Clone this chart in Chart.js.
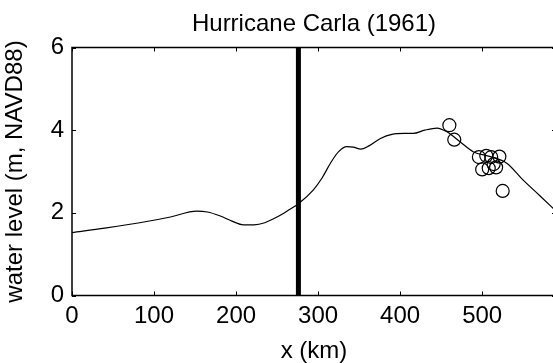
<!DOCTYPE html>
<html>
<head>
<meta charset="utf-8">
<script src="https://cdn.jsdelivr.net/npm/chart.js@4/dist/chart.umd.min.js"></script>
<style>
  html, body { margin: 0; padding: 0; overflow: hidden; background: #fff; }
  #wrap { width: 575px; height: 363px; position: relative; }
</style>
</head>
<body>
<div id="wrap"><canvas id="c" width="575" height="363"></canvas></div>
<script>
// ---- data ----
const titleText = 'Hurricane Carla (1961)';
const xLabel = 'x (km)';
const yLabel = 'water level (m, NAVD88)';

const curveKm    = [0, 40, 91, 120, 152, 165, 180, 195, 209, 222, 235, 250, 265, 276, 294, 305, 315, 325, 335, 343, 352, 362, 376, 390, 405, 416, 430, 445, 457, 473, 489, 510, 530, 550, 570, 590];
const curveLevel = [1.52, 1.63, 1.79, 1.90, 2.04, 2.02, 1.93, 1.80, 1.71, 1.71, 1.76, 1.90, 2.08, 2.22, 2.55, 2.85, 3.20, 3.48, 3.60, 3.59, 3.54, 3.62, 3.80, 3.90, 3.92, 3.92, 4.00, 4.05, 3.96, 3.72, 3.48, 3.36, 3.20, 2.79, 2.42, 2.04];

const obsKm    = [460, 466, 496, 505, 511, 521, 500, 508, 514, 517, 525];
const obsLevel = [4.12, 3.77, 3.35, 3.38, 3.35, 3.36, 3.05, 3.08, 3.18, 3.10, 2.53];

const landfallKm = 276;
const xTicks = [0, 100, 200, 300, 400, 500];
const yTicks = [0, 2, 4, 6];
const xMin = 0, xMax = 590;
const yMin = 0, yMax = 6;

// ---- chart ----
const FONT = "'Liberation Sans', Arial, Helvetica, sans-serif";
const FS = 24;

const boxTicks = {
  id: 'boxTicks',
  afterDraw(chart) {
    const {ctx, chartArea: a, scales: {x, y}} = chart;
    ctx.save();
    ctx.strokeStyle = '#000';
    ctx.lineWidth = 1.5;
    ctx.strokeRect(a.left, a.top, a.right - a.left, a.bottom - a.top);
    ctx.lineWidth = 1;
    const len = 4;
    ctx.beginPath();
    x.ticks.forEach(t => {
      const px = Math.round(x.getPixelForValue(t.value)) + 0.5;
      ctx.moveTo(px, a.bottom); ctx.lineTo(px, a.bottom - len);
      ctx.moveTo(px, a.top); ctx.lineTo(px, a.top + len);
    });
    y.ticks.forEach(t => {
      const py = Math.round(y.getPixelForValue(t.value)) + 0.5;
      ctx.moveTo(a.left, py); ctx.lineTo(a.left + len, py);
      ctx.moveTo(a.right, py); ctx.lineTo(a.right - len, py);
    });
    ctx.stroke();
    ctx.restore();
  }
};

new Chart(document.getElementById('c'), {
  type: 'scatter',
  data: {
    datasets: [
      {
        label: 'landfall',
        type: 'line',
        data: [{x: landfallKm, y: yMin}, {x: landfallKm, y: yMax}],
        borderColor: '#000',
        borderWidth: 5,
        pointRadius: 0,
        fill: false
      },
      {
        label: 'model',
        type: 'line',
        data: curveKm.map((k, i) => ({x: k, y: curveLevel[i]})),
        borderColor: '#000',
        borderWidth: 1.2,
        pointRadius: 0,
        cubicInterpolationMode: 'monotone',
        fill: false
      },
      {
        label: 'observed',
        data: obsKm.map((k, i) => ({x: k, y: obsLevel[i]})),
        pointStyle: 'circle',
        pointRadius: 6.5,
        pointBorderWidth: 1.2,
        borderColor: '#000',
        backgroundColor: 'rgba(0,0,0,0)',
        pointBackgroundColor: 'rgba(0,0,0,0)',
        pointBorderColor: '#000'
      }
    ]
  },
  options: {
    responsive: false,
    animation: false,
    devicePixelRatio: 1,
    layout: { padding: { left: 0, right: 19, top: 0, bottom: 0 } },
    plugins: {
      legend: { display: false },
      tooltip: { enabled: false },
      title: {
        display: true,
        text: titleText,
        fullSize: false,
        color: '#000',
        font: { family: FONT, size: FS, weight: 'normal' },
        padding: { top: 10, bottom: 8.7 }
      }
    },
    scales: {
      x: {
        type: 'linear',
        min: xMin, max: xMax,
        afterBuildTicks(s) { s.ticks = xTicks.map(v => ({value: v})); },
        grid: { display: false, drawTicks: false },
        border: { display: false },
        ticks: {
          autoSkip: false,
          color: '#000',
          padding: 6,
          maxRotation: 0,
          font: { family: FONT, size: FS },
          callback: v => String(v)
        },
        title: {
          display: true,
          text: xLabel,
          color: '#000',
          font: { family: FONT, size: FS, lineHeight: 1 },
          padding: { top: 0, bottom: 0 }
        },
        afterFit(s) { s.height = 67.5; }
      },
      y: {
        type: 'linear',
        min: yMin, max: yMax,
        afterBuildTicks(s) { s.ticks = yTicks.map(v => ({value: v})); },
        grid: { display: false, drawTicks: false },
        border: { display: false },
        ticks: {
          autoSkip: false,
          color: '#000',
          padding: 8,
          font: { family: FONT, size: FS },
          callback: v => String(v)
        },
        title: {
          display: true,
          text: yLabel,
          color: '#000',
          font: { family: FONT, size: FS, lineHeight: 1.2 },
          padding: { top: 1, bottom: 0 }
        },
        afterFit(s) { s.width = 72; }
      }
    }
  },
  plugins: [boxTicks]
});
</script>
</body>
</html>
